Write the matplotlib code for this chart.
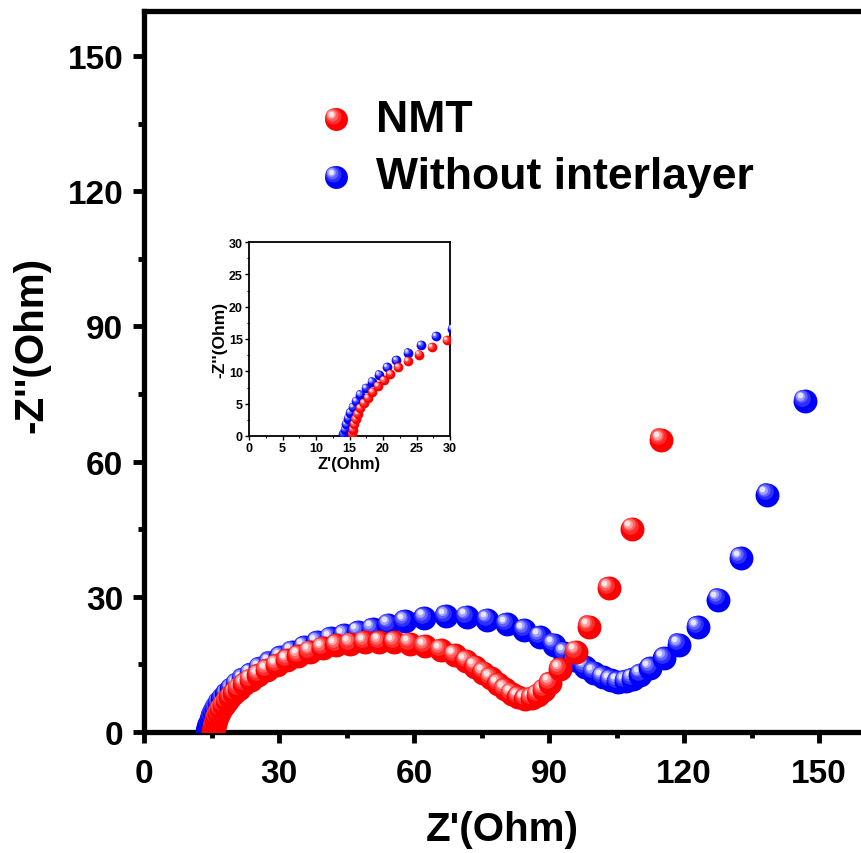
import matplotlib
matplotlib.use("Agg")
import matplotlib.pyplot as plt
from matplotlib.transforms import offset_copy
from matplotlib.ticker import MultipleLocator
import numpy as np

plt.rcParams['font.family'] = ['Liberation Sans', 'DejaVu Sans']
plt.rcParams['font.weight'] = 'bold'

# ---------------- data ----------------
nmt_x = [15.4, 15.5, 15.7, 15.9, 16.2, 16.6, 17.1, 17.7, 18.4, 19.2, 20.1, 21.1,
         22.3, 23.7, 25.4, 27.3, 29.5, 31.8, 34.3, 36.9, 39.7, 42.7, 45.8, 49.0,
         52.3, 55.6, 59.0, 62.4, 66.0, 69.0, 71.6, 73.6, 75.4, 77.0, 78.7, 80.2,
         81.7, 83.2, 84.7, 86.2, 87.5, 88.8, 90.2, 92.4, 96.0, 98.9, 103.3,
         108.5, 114.9]
nmt_y = [0.3, 1.0, 1.8, 2.6, 3.4, 4.3, 5.1, 5.9, 6.8, 7.7, 8.6, 9.6,
         10.6, 11.6, 12.6, 13.7, 14.8, 15.9, 16.9, 17.8, 18.6, 19.2, 19.6, 19.9,
         20.0, 19.9, 19.6, 19.0, 18.1, 17.0, 15.7, 14.5, 13.2, 11.9, 10.6, 9.5,
         8.5, 7.7, 7.3, 7.5, 8.2, 9.3, 10.9, 13.9, 17.8, 23.4, 31.9,
         45.1, 64.9]

wo_x = [14.1, 14.3, 14.5, 14.8, 15.1, 15.5, 16.0, 16.6, 17.4, 18.3, 19.4, 20.6,
        22.0, 23.7, 25.7, 27.9, 30.3, 32.9, 35.6, 38.5, 41.5, 44.5, 47.6, 50.8,
        54.3, 58.0, 62.3, 67.1, 71.7, 76.3, 80.6, 84.5, 88.0, 91.0, 93.4, 95.6,
        98.0, 100.0, 101.9, 103.7, 105.3, 107.0, 108.6, 110.3, 112.5, 115.6,
        118.9, 123.0, 127.6, 132.6, 138.5, 146.8]
wo_y = [0.3, 1.0, 1.8, 2.7, 3.6, 4.5, 5.4, 6.4, 7.4, 8.4, 9.5, 10.6,
        11.7, 12.9, 14.1, 15.4, 16.6, 17.8, 18.9, 19.9, 20.8, 21.5, 22.2, 22.9,
        23.8, 24.6, 25.3, 25.7, 25.6, 24.9, 23.9, 22.6, 21.1, 19.4, 17.6, 15.9,
        14.4, 13.2, 12.2, 11.5, 11.1, 11.3, 11.8, 12.7, 14.2, 16.4,
        19.4, 23.3, 29.4, 38.6, 52.7, 73.5]

series_labels = ["NMT", "Without interlayer"]
series_colors = ["#ff0000", "#0000ff"]

main_ticks = [0, 30, 60, 90, 120, 150]
inset_ticks = [0, 5, 10, 15, 20, 25, 30]

# ---------------- helpers ----------------
def mix(c, w):
    c = np.array(matplotlib.colors.to_rgb(c))
    return tuple(c + (1 - c) * w)

def sphere(ax, fig, x, y, color, ms, z, base_transform=None, clip=True):
    if base_transform is None:
        base_transform = ax.transData
    r = ms / 2.0
    layers = [
        (1.00, 0.00, 0.00, 0.00),
        (0.70, 0.18, -0.22, 0.26),
        (0.52, 0.38, -0.30, 0.36),
        (0.38, 0.62, -0.36, 0.42),
        (0.24, 0.90, -0.40, 0.46),
    ]
    for frac, w, dx, dy in layers:
        tr = offset_copy(base_transform, fig=fig, x=dx * r, y=dy * r, units='points')
        ax.plot([x], [y], 'o', ms=ms * frac, mfc=mix(color, w), mec='none',
                transform=tr, zorder=z, clip_on=clip)

# ---------------- figure ----------------
fig = plt.figure(figsize=(8.61, 8.54), dpi=100)
ax = fig.add_axes([144 / 861, 121 / 854, 720 / 861, 721 / 854])

ax.set_xlim(0, 160)
ax.set_ylim(0, 160)

z = 3
for xs, ys, col in [(wo_x, wo_y, series_colors[1]), (nmt_x, nmt_y, series_colors[0])]:
    for xi, yi in zip(xs, ys):
        sphere(ax, fig, xi, yi, col, 17.2, z)
        z += 0.01

for s in ax.spines.values():
    s.set_linewidth(3.8)

ax.set_xticks(main_ticks)
ax.set_yticks(main_ticks)
ax.xaxis.set_minor_locator(MultipleLocator(15))
ax.yaxis.set_minor_locator(MultipleLocator(15))
ax.tick_params(which='major', direction='out', length=8, width=3.5,
               labelsize=24, top=False, right=False)
ax.tick_params(which='minor', direction='out', length=4, width=3.5,
               top=False, right=False)
ax.tick_params(axis='x', which='major', pad=11)
ax.tick_params(axis='y', which='major', pad=7)
for t in ax.get_xticklabels() + ax.get_yticklabels():
    t.set_fontweight('bold')

ax.set_xlabel("Z'(Ohm)", fontsize=29, fontweight='bold')
ax.xaxis.set_label_coords(0.497, -0.135)
ax.xaxis.label.set_va('center')
ax.set_ylabel("-Z''(Ohm)", fontsize=29, fontweight='bold')
ax.yaxis.set_label_coords(-0.156, 0.538)
ax.yaxis.label.set_va('center')

# legend (manual)
leg_y = [0.850, 0.770]
for lab, col, ly in zip(series_labels, series_colors, leg_y):
    sphere(ax, fig, 0.266, ly, col, 16.5, 10, base_transform=ax.transAxes, clip=False)
    ax.text(0.322, ly, lab, transform=ax.transAxes, fontsize=32,
            fontweight='bold', va='center', ha='left')

# ---------------- inset ----------------
ins = fig.add_axes([249 / 861, (854 - 437) / 854, 201 / 861, 194 / 854])
ins.set_facecolor('white')
ins.set_xlim(0, 30)
ins.set_ylim(0, 30)
z = 3
for xs, ys, col in [(wo_x, wo_y, series_colors[1]), (nmt_x, nmt_y, series_colors[0])]:
    for xi, yi in zip(xs, ys):
        sphere(ins, fig, xi, yi, col, 7.0, z)
        z += 0.01
for s in ins.spines.values():
    s.set_linewidth(1.3)
ins.set_xticks(inset_ticks)
ins.set_yticks(inset_ticks)
ins.xaxis.set_minor_locator(MultipleLocator(2.5))
ins.yaxis.set_minor_locator(MultipleLocator(2.5))
ins.tick_params(which='major', direction='out', length=3, width=1.0,
                labelsize=9, pad=1.5, top=False, right=False)
ins.tick_params(which='minor', direction='out', length=1.5, width=0.8,
                top=False, right=False)
for t in ins.get_xticklabels() + ins.get_yticklabels():
    t.set_fontweight('bold')
ins.set_xlabel("Z'(Ohm)", fontsize=12, fontweight='bold', labelpad=1)
ins.set_ylabel("-Z''(Ohm)", fontsize=12.5, fontweight='bold', labelpad=1)

fig.savefig("out.png", dpi=100)
